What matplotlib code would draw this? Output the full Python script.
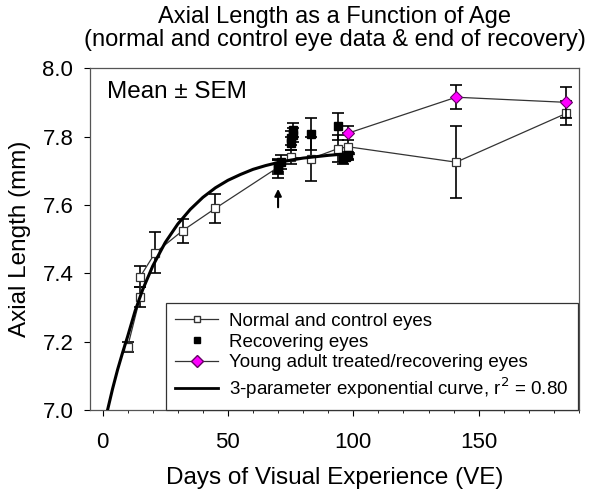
import matplotlib
matplotlib.use("Agg")
import matplotlib.pyplot as plt
from matplotlib.lines import Line2D
from matplotlib.ticker import MultipleLocator

plt.rcParams['font.family'] = ['Liberation Sans', 'DejaVu Sans']

# normal and control eyes (open squares)
normal_x = [10, 15, 15, 21, 32, 45, 70, 75, 83, 94, 98, 141, 185]
normal_y = [7.185, 7.33, 7.39, 7.46, 7.525, 7.59, 7.71, 7.74, 7.735, 7.765, 7.77, 7.725, 7.868]
normal_err = [0.015, 0.03, 0.03, 0.06, 0.035, 0.042, 0.02, 0.02, 0.065, 0.04, 0.04, 0.105, 0.035]

# recovering eyes (filled squares)
rec_x = [70, 70, 71, 75, 75, 76, 76, 83, 94, 96, 97, 98]
rec_y = [7.705, 7.715, 7.725, 7.78, 7.795, 7.805, 7.82, 7.807, 7.83, 7.735, 7.74, 7.745]
rec_err = [0.025, 0.02, 0.02, 0.02, 0.02, 0.02, 0.02, 0.047, 0.04, 0.015, 0.01, 0.01]

# young adult treated/recovering eyes (diamonds)
ya_x = [98, 141, 185]
ya_y = [7.81, 7.915, 7.90]
ya_err = [0.02, 0.035, 0.045]

# 3-parameter exponential curve
curve_x = [2, 4, 6, 8, 10, 13, 16, 20, 25, 30, 35, 40, 45, 50, 55, 60, 65, 70, 75, 80, 85, 90, 95, 100]
curve_y = [7.000, 7.062, 7.118, 7.168, 7.215, 7.290, 7.352, 7.421, 7.490, 7.544, 7.587, 7.622,
           7.650, 7.672, 7.689, 7.704, 7.715, 7.724, 7.731, 7.737, 7.741, 7.745, 7.748, 7.750]

fig = plt.figure(figsize=(6, 4.94), dpi=100)
ax = fig.add_axes([0.15, 0.17, 0.815, 0.692])

ek = dict(ecolor='black', elinewidth=1.2, capsize=4.5, capthick=1.2)

ax.errorbar(normal_x, normal_y, yerr=normal_err, fmt='none', zorder=2, **ek)
ax.plot(normal_x, normal_y, '-', color='#333333', lw=0.9, zorder=3)
ax.plot(normal_x, normal_y, 's', mfc='white', mec='#333333', ms=6, mew=0.9, zorder=4)

ax.plot(curve_x, curve_y, '-', color='black', lw=2.2, zorder=5)

ax.errorbar(rec_x, rec_y, yerr=rec_err, fmt='s', color='black', ms=5.5, zorder=6, **ek)

ax.errorbar(ya_x, ya_y, yerr=ya_err, fmt='none', zorder=6, **ek)
ax.plot(ya_x, ya_y, '-', color='#333333', lw=0.9, zorder=6)
ax.plot(ya_x, ya_y, 'D', mfc='#ff00ff', mec='#660066', ms=6.5, mew=0.8, zorder=7)

ax.annotate('', xy=(70, 7.655), xytext=(70, 7.585),
            arrowprops=dict(arrowstyle='-|>', color='black', lw=1.5, mutation_scale=10))

ax.text(1.6, 7.93, 'Mean ± SEM', fontsize=17.5, ha='left', va='center')

ax.set_xlim(-5, 190)
ax.set_ylim(7.0, 8.0)
ax.set_xticks([0, 50, 100, 150])
ax.xaxis.set_minor_locator(MultipleLocator(10))
ax.set_yticks([7.0, 7.2, 7.4, 7.6, 7.8, 8.0])
ax.set_yticklabels(['7.0', '7.2', '7.4', '7.6', '7.8', '8.0'])
ax.tick_params(axis='both', which='major', labelsize=16, length=4, direction='out', width=0.8)
ax.tick_params(axis='y', which='major', pad=8)
ax.tick_params(axis='x', which='major', pad=12)
ax.tick_params(axis='x', which='minor', length=2, direction='out', width=0.6)
for s in ax.spines.values():
    s.set_color('#555555')
    s.set_linewidth(0.9)

ax.set_xlabel('Days of Visual Experience (VE)', fontsize=17.5, labelpad=10)
ax.set_ylabel('Axial Length (mm)', fontsize=17.5, labelpad=8)
ax.set_title('Axial Length as a Function of Age\n(normal and control eye data & end of recovery)',
             fontsize=17, pad=16, linespacing=1.05)

handles = [
    Line2D([], [], color='#333333', lw=0.9, marker='s', mfc='white', mec='#333333', ms=5),
    Line2D([], [], color='black', lw=0, marker='s', ms=5),
    Line2D([], [], color='#333333', lw=0.9, marker='D', mfc='#ff00ff', mec='#660066', ms=6),
    Line2D([], [], color='black', lw=2),
]
labels = ['Normal and control eyes', 'Recovering eyes',
          'Young adult treated/recovering eyes',
          '3-parameter exponential curve, r$^2$ = 0.80']
leg = ax.legend(handles, labels, loc='lower right', bbox_to_anchor=(0.997, 0.0),
                borderaxespad=0, fontsize=13.5, handlelength=2.25, handletextpad=0.6,
                fancybox=False, framealpha=1, edgecolor='#333333', labelspacing=0.2,
                borderpad=0.5)
leg.get_frame().set_linewidth(0.9)

fig.savefig('out.png', dpi=100)
